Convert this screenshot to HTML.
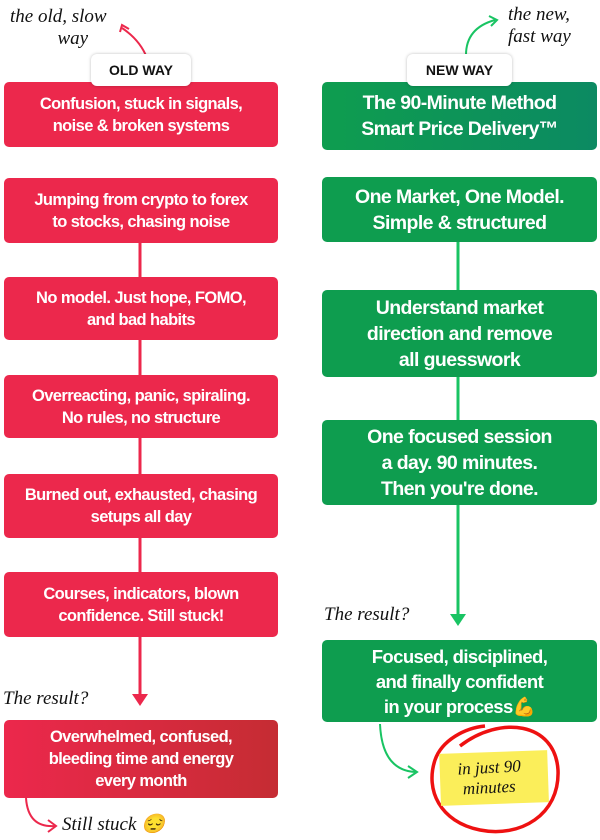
<!DOCTYPE html>
<html><head><meta charset="utf-8"><style>
body{margin:0;width:600px;height:840px;background:#fff;position:relative;overflow:hidden;font-family:"Liberation Sans",sans-serif}
.b{position:absolute;display:flex;align-items:center;justify-content:center;text-align:center;color:#fff;font-weight:bold;border-radius:5px;letter-spacing:-0.6px}
.r{left:4px;width:274px;background:#ec284c;font-size:16.5px;line-height:22px}
.g{left:322px;width:275px;background:#0e9d4f;font-size:19.5px;line-height:26px}
.pill{position:absolute;top:54px;height:32px;background:#fff;border-radius:6px;box-shadow:0 0 3px rgba(0,0,0,.25);font-weight:bold;font-size:14px;display:flex;align-items:center;justify-content:center;color:#111;z-index:2}
.h{position:absolute;font-family:"Liberation Serif",serif;font-style:italic;font-size:19px;color:#111;line-height:22px}
</style></head><body>
<svg width="600" height="840" style="position:absolute;left:0;top:0">
<line x1="140" y1="243" x2="140" y2="698" stroke="#ec284c" stroke-width="3"/>
<polygon points="132,694 148,694 140,706" fill="#ec284c"/>
<line x1="458" y1="242" x2="458" y2="618" stroke="#19c463" stroke-width="3"/>
<polygon points="450,614 466,614 458,626" fill="#19c463"/>
<path d="M147,58 Q140,40 122,28" fill="none" stroke="#ec284c" stroke-width="2"/>
<path d="M120,32 L122,25 L129,29" fill="none" stroke="#ec284c" stroke-width="2"/>
<path d="M466,55 Q466,28 495,20" fill="none" stroke="#19c463" stroke-width="2"/>
<path d="M489,16 L497,20 L491,26" fill="none" stroke="#19c463" stroke-width="2"/>
<path d="M26,798 Q28,828 55,826" fill="none" stroke="#ec284c" stroke-width="2"/>
<path d="M48,820 L56,826 L48,832" fill="none" stroke="#ec284c" stroke-width="2"/>
<path d="M380,724 Q382,770 415,772" fill="none" stroke="#19c463" stroke-width="2"/>
<path d="M408,766 L417,772 L408,778" fill="none" stroke="#19c463" stroke-width="2"/>
<path d="M460,746 C500,715 555,722 558,770 C560,815 520,838 480,830 C440,822 425,790 435,760 C442,740 465,728 485,726" fill="none" stroke="#e11" stroke-width="3.5"/>
<rect x="440" y="752" width="108" height="52" fill="#fbee5a" transform="rotate(-2 494 776)"/>
</svg>
<div class="h" style="left:10px;top:6px">the old, slow<br>&nbsp;&nbsp;&nbsp;&nbsp;&nbsp;&nbsp;&nbsp;&nbsp;&nbsp;&nbsp;way</div>
<div class="h" style="left:508px;top:4px">the new,<br>fast way</div>
<div class="pill" style="left:91px;width:100px">OLD WAY</div>
<div class="pill" style="left:407px;width:105px">NEW WAY</div>
<div class="b r" style="top:82px;height:65px">Confusion, stuck in signals,<br>noise &amp; broken systems</div>
<div class="b r" style="top:178px;height:65px">Jumping from crypto to forex<br>to stocks, chasing noise</div>
<div class="b r" style="top:277px;height:63px">No model. Just hope, FOMO,<br>and bad habits</div>
<div class="b r" style="top:375px;height:63px">Overreacting, panic, spiraling.<br>No rules, no structure</div>
<div class="b r" style="top:474px;height:64px">Burned out, exhausted, chasing<br>setups all day</div>
<div class="b r" style="top:572px;height:65px">Courses, indicators, blown<br>confidence. Still stuck!</div>
<div class="h" style="left:3px;top:688px">The result?</div>
<div class="b r" style="top:720px;height:78px;background:linear-gradient(90deg,#ec284c,#c52c33)">Overwhelmed, confused,<br>bleeding time and energy<br>every month</div>
<div class="h" style="left:62px;top:814px">Still stuck 😔</div>
<div class="b g" style="top:82px;height:68px;background:linear-gradient(90deg,#0e9d4f,#0c8a62)">The 90-Minute Method<br>Smart Price Delivery™</div>
<div class="b g" style="top:177px;height:65px">One Market, One Model.<br>Simple &amp; structured</div>
<div class="b g" style="top:290px;height:87px">Understand market<br>direction and remove<br>all guesswork</div>
<div class="b g" style="top:420px;height:85px">One focused session<br>a day. 90 minutes.<br>Then you're done.</div>
<div class="h" style="left:324px;top:604px">The result?</div>
<div class="b g" style="top:640px;height:82px;font-size:18.5px;line-height:25px">Focused, disciplined,<br>and finally confident<br>in your process💪</div>
<div class="h" style="left:458px;top:758px;font-size:17px;line-height:20px;transform:rotate(-3deg)">in just 90<br>&nbsp;minutes</div>
</body></html>
